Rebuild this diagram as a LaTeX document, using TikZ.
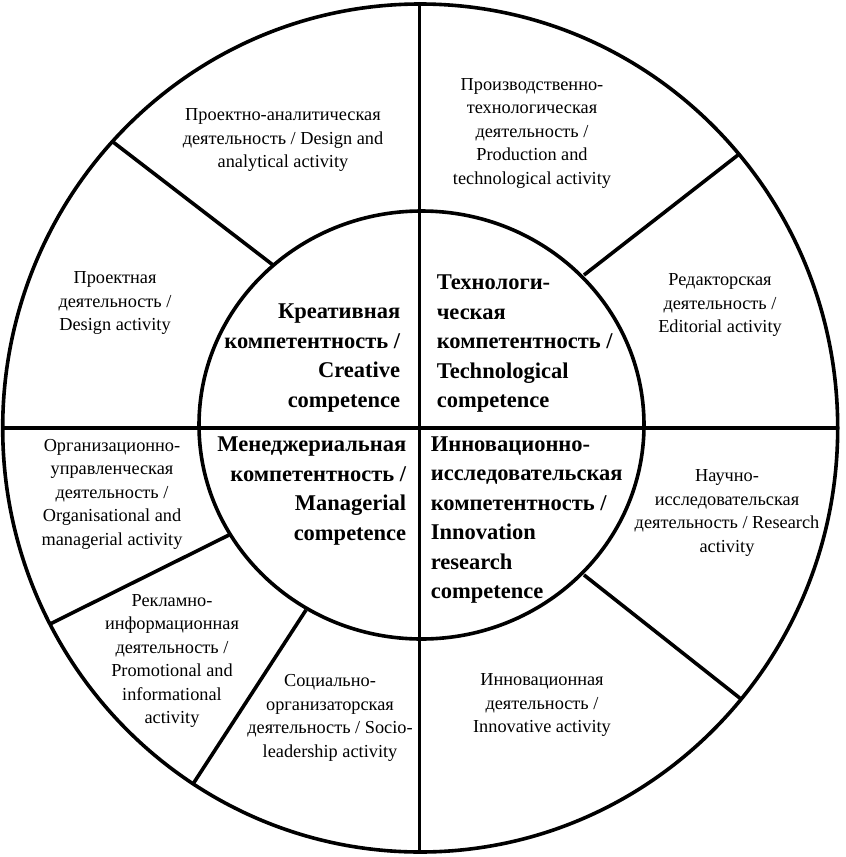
\documentclass[tikz,border=0pt]{standalone}
\usepackage{fontspec}
\setmainfont{Liberation Serif}
\begin{document}
\begin{tikzpicture}[x=1pt,y=-1pt,line width=3.6pt,
  act/.style={inner sep=0pt,align=center,font=\fontsize{18.3}{23.5}\selectfont},
  comp/.style={inner sep=0pt,font=\fontsize{22.5}{29.5}\selectfont\bfseries}]
\useasboundingbox (0,0) rectangle (846,857);
\fill[white] (0,0) rectangle (846,857);
\coordinate (oc) at (420.2,428);
\coordinate (ic) at (421.5,425);
\draw (oc) ellipse [x radius=417.5pt, y radius=424pt];
\draw (ic) ellipse [x radius=222.5pt, y radius=214pt];
\coordinate (vt) at (419.3,4);
\coordinate (vb) at (419.3,852);
\coordinate (hl) at (2.7,428);
\coordinate (hr) at (837.7,428);
\draw (vt) -- (vb);
\draw (hl) -- (hr);
% dividers
\coordinate (a1) at (273,265); \coordinate (a2) at (113,142);
\coordinate (b1) at (584,275); \coordinate (b2) at (738,155);
\coordinate (c1) at (229,535); \coordinate (c2) at (50,624);
\coordinate (d1) at (306,610); \coordinate (d2) at (193,784);
\coordinate (e1) at (584,575); \coordinate (e2) at (741,699);
\draw (a1) -- (a2);
\draw (b1) -- (b2);
\draw (c1) -- (c2);
\draw (d1) -- (d2);
\draw (e1) -- (e2);
% activity texts
\node[act] (pa) at (283,140) {Проектно-аналитическая\\деятельность / Design and\\analytical activity};
\node[act] (pr) at (115,303) {Проектная\\деятельность /\\Design activity};
\node[act] (pt) at (532,133) {Производственно-\\технологическая\\деятельность /\\Production and\\technological activity};
\node[act] (rd) at (720,305) {Редакторская\\деятельность /\\Editorial activity};
\node[act] (ou) at (112,494) {Организационно-\\управленческая\\деятельность /\\Organisational and\\managerial activity};
\node[act] (ri) at (172,661) {Рекламно-\\информационная\\деятельность /\\Promotional and\\informational\\activity};
\node[act] (so) at (330,718) {Социально-\\организаторская\\деятельность / Socio-\\leadership activity};
\node[act] (ni) at (727,513) {Научно-\\исследовательская\\деятельность / Research\\activity};
\node[act] (in) at (542,705) {Инновационная\\деятельность /\\Innovative activity};
% competence texts
\node[comp,align=right,anchor=east] (kr) at (402,358) {Креативная\\компетентность /\\Creative\\competence};
\node[comp,align=left,anchor=west] (tk) at (435,344) {Технологи-\\ческая\\компетентность /\\Technological\\competence};
\node[comp,align=right,anchor=east] (mk) at (408,491) {Менеджериальная\\компетентность /\\Managerial\\competence};
\node[comp,align=left,anchor=west] (ik) at (429,520) {Инновационно-\\исследовательская\\компетентность /\\Innovation\\research\\competence};
\end{tikzpicture}
\end{document}
